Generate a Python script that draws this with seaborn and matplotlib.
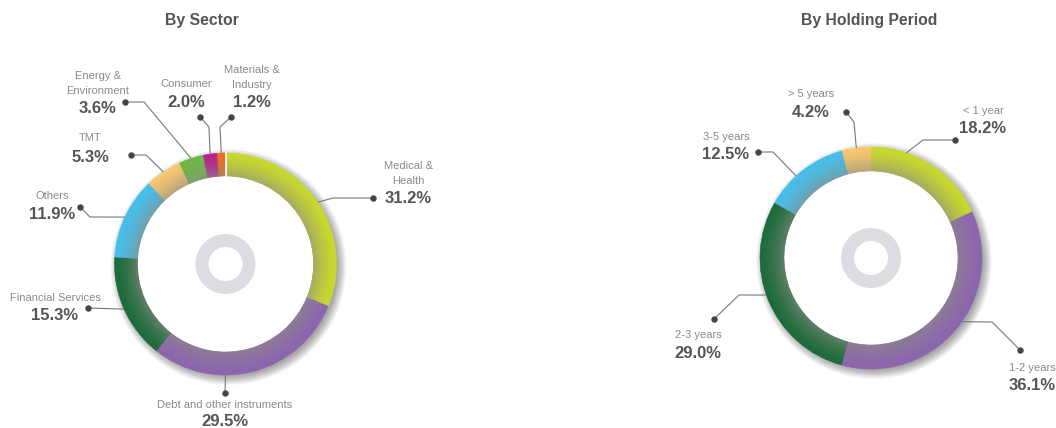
import numpy as np
import matplotlib
matplotlib.use("Agg")
import matplotlib.pyplot as plt
from matplotlib.patches import Circle
from matplotlib.colors import to_rgb
import seaborn as sns

# data
sector_labels = ["Medical &\nHealth", "Debt and other instruments", "Financial Services", "Others",
                 "TMT", "Energy &\nEnvironment", "Consumer", "Materials &\nIndustry"]
sector_values = [31.2, 29.5, 15.3, 11.9, 5.3, 3.6, 2.0, 1.2]
sector_colors = ["#c8d92e", "#8c65ae", "#1c6b3a", "#46bfec", "#f7c870", "#6cb845", "#b8238e", "#f26b22"]

period_labels = ["< 1 year", "1-2 years", "2-3 years", "3-5 years", "> 5 years"]
period_values = [18.2, 36.1, 29.0, 12.5, 4.2]
period_colors = ["#c8d92e", "#8c65ae", "#1c6b3a", "#46bfec", "#f7c870"]

# label layout in pixels: anchor angle (clockwise from top), elbow, dot, text x, name y, pct y
sector_layout = [
    (56.2, (333, 198), (373, 198), 408, 166, 198),
    (180, (225, 393), (225, 393), 225, 405, 422),
    (246, (88, 308), (88, 308), 55, 298, 316),
    (295, (90, 217), (80, 207), 52, 196, 214),
    (326, (146, 155), (131, 155), 90, 138, 157),
    (342, (144, 102), (125, 102), 98, 76, 108),
    (352, (209, 127), (200, 117), 186, 84, 102),
    (357.8, (220, 127), (231, 117), 252, 70, 102),
]
period_layout = [
    (18.6, (923, 140), (955, 140), 983, 111, 128),
    (125, (992, 322), (1020, 350), 1032, 368, 385),
    (250.5, (739, 295), (714, 319), 698, 335, 354),
    (317.6, (773, 152), (758, 152), 726, 137, 154),
    (352.4, (854, 122), (846, 112), 811, 94, 112),
]

W, H = 1056, 428
GREY = np.array([0.55, 0.55, 0.52])

sns.set_style("white")
plt.rcParams['font.family'] = ['Liberation Sans', 'DejaVu Sans']

fig = plt.figure(figsize=(W / 100, H / 100), dpi=100)
ax = fig.add_axes([0, 0, 1, 1])


def shade(c, t):
    w = 0.6 * t ** 1.6
    return tuple(np.array(to_rgb(c)) * (1 - w) + GREY * w)


def donut(values, colors, cx, cy, r, width):
    y = H - cy
    # soft drop shadow to the lower right
    for k in range(16):
        ax.add_patch(Circle((cx + 3, y - 3), r + 7 - k * 0.6, color="k", alpha=0.022, lw=0, zorder=1))
    ax.add_patch(Circle((cx, y), r - width, color="white", lw=0, zorder=2))
    n = 16
    dr = width / n
    for i in range(n):
        t = (i + 0.5) / n
        cols = [shade(c, t) for c in colors]
        wedges, _ = ax.pie(values, colors=cols, radius=r - i * dr, center=(cx, y),
                           startangle=90, counterclock=False,
                           wedgeprops=dict(width=dr * 1.5 if i < n - 1 else dr, linewidth=0.4))
        for wd in wedges:
            wd.set_edgecolor(wd.get_facecolor())
            wd.set_zorder(3)
    inner, _ = ax.pie([1], colors=["#dcdde3"], radius=30, center=(cx, y), wedgeprops=dict(width=13, linewidth=0))
    inner[0].set_zorder(4)


def add_labels(labels, values, layout, cx, cy, r):
    for name, val, (ang, elbow, dot, tx, ny, py) in zip(labels, values, layout):
        a = np.deg2rad(ang)
        sx, sy = cx + r * np.sin(a), cy - r * np.cos(a)
        xs = [sx, elbow[0], dot[0]]
        ys = [H - sy, H - elbow[1], H - dot[1]]
        ax.plot(xs, ys, color="#777777", lw=0.8, zorder=6, solid_capstyle="butt")
        ax.plot(dot[0], H - dot[1], "o", color="#444444", ms=3.6, zorder=7)
        for j, line in enumerate(name.split("\n")):
            ax.text(tx, H - (ny + j * 14.5), line, ha="center", va="center",
                    fontsize=8, color="#8a8a8a", zorder=8)
        ax.text(tx, H - py, f"{val:.1f}%", ha="center", va="center",
                fontsize=12, fontweight="bold", color="#555555", zorder=8)


donut(sector_values, sector_colors, 225.5, 264, 111, 23)
ax.plot([225.5, 225.5], [H - 264 + 86, H - 264 + 112], color="white", lw=1.2, zorder=5)
add_labels(sector_labels, sector_values, sector_layout, 225.5, 264, 111)

donut(period_values, period_colors, 871, 258, 111, 24)
add_labels(period_labels, period_values, period_layout, 871, 258, 111)

ax.text(201.5, H - 20, "By Sector", ha="center", va="center", fontsize=11.3,
        fontweight="bold", color="#555555")
ax.text(869, H - 20, "By Holding Period", ha="center", va="center", fontsize=11.3,
        fontweight="bold", color="#555555")

ax.set_xlim(0, W)
ax.set_ylim(0, H)
ax.set_aspect("auto")
ax.axis("off")

fig.savefig("out.png", dpi=100)
